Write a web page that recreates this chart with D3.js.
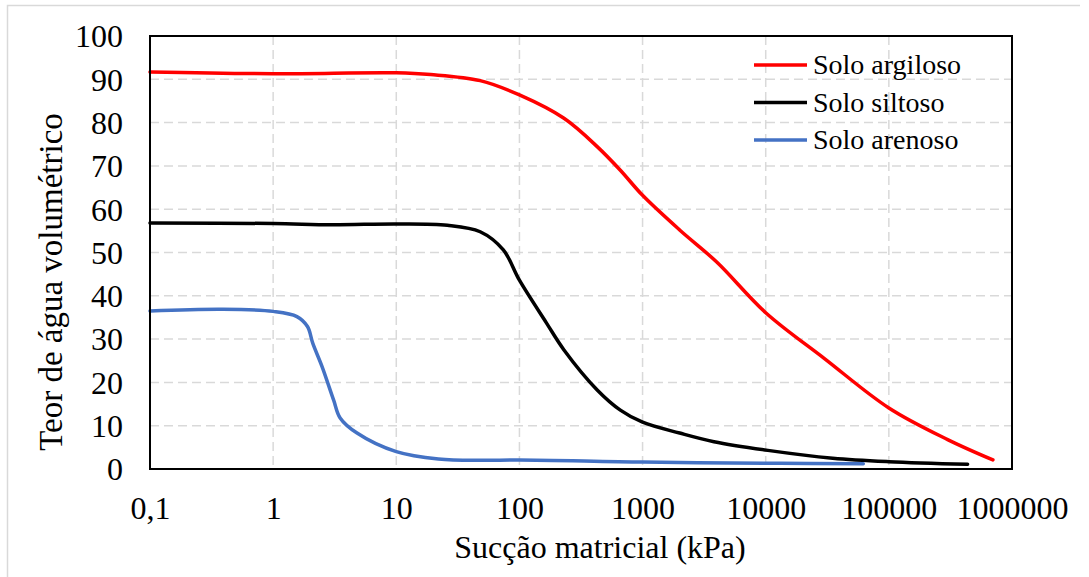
<!DOCTYPE html>
<html>
<head>
<meta charset="utf-8">
<script src="https://cdn.jsdelivr.net/npm/d3@7"></script>
<style>
  body { margin: 0; background: #fff; }
  text { font-family: "Liberation Serif", "Times New Roman", serif; fill: #000; }
</style>
</head>
<body>
<svg id="chart" width="1089" height="577"></svg>
<script>
// tick values
var xTicks = [0.1, 1, 10, 100, 1000, 10000, 100000, 1000000];
var xTickLabels = ['0,1', '1', '10', '100', '1000', '10000', '100000', '1000000'];
var yTicks = [0, 10, 20, 30, 40, 50, 60, 70, 80, 90, 100];

// Solo argiloso
var argilosoX = [0.1, 1, 10, 19, 48, 100, 230, 430, 660, 1000, 2000, 4000, 10000, 30000, 100000, 300000, 700000];
var argilosoY = [91.7, 91.3, 91.5, 91.1, 89.7, 86.4, 81, 74.4, 69, 63.2, 55.2, 47.8, 36.1, 25.5, 14.1, 6.8, 2.1];

// Solo siltoso
var siltosoX = [0.1, 1, 3, 10, 26, 48, 74, 100, 166, 230, 430, 660, 1000, 2000, 3800, 10400, 35000, 100000, 436000];
var siltosoY = [56.8, 56.7, 56.4, 56.6, 56.3, 54.8, 50.6, 43.6, 33.7, 27.5, 18.2, 13.6, 10.8, 8.3, 6.3, 4.3, 2.5, 1.7, 1.1];

// Solo arenoso
var arenosoX = [0.1, 0.39, 1, 1.56, 1.9, 2.1, 2.5, 3.1, 3.5, 4.8, 10, 22, 50, 100, 1000, 13000, 62000];
var arenosoY = [36.5, 36.9, 36.4, 35.2, 32.9, 29, 23.6, 15.9, 11.8, 8.3, 4.0, 2.3, 2.0, 2.1, 1.6, 1.3, 1.2];

var seriesNames = ['Solo argiloso', 'Solo siltoso', 'Solo arenoso'];
var seriesColors = ['#ff0000', '#000000', '#4472c4'];

var series = [
  { name: seriesNames[0], color: seriesColors[0], xs: argilosoX, ys: argilosoY },
  { name: seriesNames[1], color: seriesColors[1], xs: siltosoX, ys: siltosoY },
  { name: seriesNames[2], color: seriesColors[2], xs: arenosoX, ys: arenosoY }
];

var svg = d3.select('#chart');
var plotL = 150, plotR = 1012, plotT = 36, plotB = 469;

var x = d3.scaleLog().domain([0.1, 1000000]).range([plotL, plotR]);
var y = d3.scaleLinear().domain([0, 100]).range([plotB, plotT]);

// outer chart border (clipped on right/bottom)
svg.append('path')
  .attr('d', 'M7.5,577V5.5H1080')
  .attr('fill', 'none')
  .attr('stroke', '#d9d9d9')
  .attr('stroke-width', 1.5);

// gridlines
svg.append('g').selectAll('line')
  .data(yTicks.slice(1, -1))
  .enter().append('line')
    .attr('x1', plotL).attr('x2', plotR)
    .attr('y1', function(d) { return y(d); })
    .attr('y2', function(d) { return y(d); })
    .attr('stroke', '#d9d9d9')
    .attr('stroke-width', 1.5)
    .attr('stroke-dasharray', '9,5');

svg.append('g').selectAll('line')
  .data(xTicks.slice(1, -1))
  .enter().append('line')
    .attr('y1', plotT).attr('y2', plotB)
    .attr('x1', function(d) { return x(d); })
    .attr('x2', function(d) { return x(d); })
    .attr('stroke', '#d9d9d9')
    .attr('stroke-width', 1.5)
    .attr('stroke-dasharray', '9,5');

// tick labels via d3 axes
var xAxis = d3.axisBottom(x)
  .tickValues(xTicks)
  .tickFormat(function(d, i) { return xTickLabels[i]; })
  .tickSize(0).tickPadding(27);

var yAxis = d3.axisLeft(y)
  .tickValues(yTicks)
  .tickSize(0).tickPadding(27);

var gx = svg.append('g').attr('transform', 'translate(0,' + plotB + ')').call(xAxis);
var gy = svg.append('g').attr('transform', 'translate(' + plotL + ',0)').call(yAxis);
[gx, gy].forEach(function(g) {
  g.select('.domain').remove();
  g.attr('font-family', null).attr('font-size', null);
  g.selectAll('text')
    .style('font-family', '"Liberation Serif", "Times New Roman", serif')
    .style('font-size', '32px')
    .attr('fill', '#000');
});
gy.selectAll('text').attr('dy', '0.34em');

// curves (smoothed like the spreadsheet lines)
var line = d3.line()
  .x(function(d) { return x(d[0]); })
  .y(function(d) { return y(d[1]); })
  .curve(d3.curveCatmullRom.alpha(0.5));

svg.append('g').selectAll('path')
  .data(series)
  .enter().append('path')
    .attr('d', function(s) { return line(s.xs.map(function(v, i) { return [v, s.ys[i]]; })); })
    .attr('fill', 'none')
    .attr('stroke', function(s) { return s.color; })
    .attr('stroke-width', 3.5)
    .attr('stroke-linecap', 'round');

// plot frame
svg.append('rect')
  .attr('x', plotL).attr('y', plotT)
  .attr('width', plotR - plotL).attr('height', plotB - plotT)
  .attr('fill', 'none')
  .attr('stroke', '#000')
  .attr('stroke-width', 2);

// legend
var lg = svg.append('g').selectAll('g')
  .data(series)
  .enter().append('g')
    .attr('transform', function(d, i) { return 'translate(754,' + (65 + i * 37.5) + ')'; });
lg.append('line')
  .attr('x1', 0).attr('x2', 53)
  .attr('stroke', function(d) { return d.color; })
  .attr('stroke-width', 3.5);
lg.append('text')
  .attr('x', 59).attr('dy', '0.33em')
  .style('font-size', '28px')
  .text(function(d) { return d.name; });

// axis titles
svg.append('text')
  .attr('x', (455 + 745) / 2).attr('y', 558)
  .attr('text-anchor', 'middle')
  .style('font-size', '32px')
  .text('Sucção matricial (kPa)');

svg.append('text')
  .attr('transform', 'translate(62,282) rotate(-90)')
  .attr('text-anchor', 'middle')
  .style('font-size', '33px')
  .text('Teor de água volumétrico');
</script>
</body>
</html>
